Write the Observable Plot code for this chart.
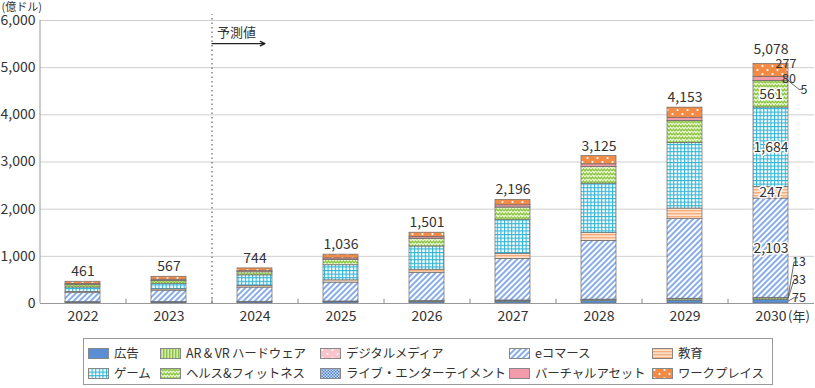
<!DOCTYPE html>
<html><head><meta charset="utf-8">
<script src="https://cdn.jsdelivr.net/npm/d3@7"></script>
<script src="https://cdn.jsdelivr.net/npm/@observablehq/plot@0.6"></script>
<style>
body{margin:0;background:#fff;font-family:'Noto Sans CJK JP',sans-serif;}
#wrap{position:relative;width:815px;height:388px;overflow:hidden;}
#legendBox{position:absolute;left:83px;top:338px;width:690px;height:47px;border:1px solid #9a9a9a;box-sizing:border-box;}
.item{position:absolute;display:flex;align-items:center;font-size:12.5px;letter-spacing:-0.2px;color:#333;white-space:nowrap;line-height:14px;height:14px;}
.item svg{margin-right:5px;display:block;}
</style></head>
<body>
<svg width="0" height="0" style="position:absolute">
<defs>
<pattern id="p-arvr" patternUnits="userSpaceOnUse" width="3" height="3">
  <rect width="3" height="3" fill="#d6ebae"/>
  <rect width="1.4" height="3" fill="#8cc045"/>
</pattern>
<pattern id="p-digital" patternUnits="userSpaceOnUse" width="10" height="8">
  <rect width="10" height="8" fill="#f8c3cb"/>
  <circle cx="2.5" cy="2" r="1" fill="#fff"/>
  <circle cx="7.5" cy="6" r="1" fill="#fff"/>
</pattern>
<pattern id="p-ecom" patternUnits="userSpaceOnUse" width="4" height="4" patternTransform="rotate(45)">
  <rect width="4" height="4" fill="#ffffff"/>
  <rect width="2" height="4" fill="#88ade8"/>
</pattern>
<pattern id="p-edu" patternUnits="userSpaceOnUse" width="3" height="3">
  <rect width="3" height="3" fill="#fde2cd"/>
  <rect width="3" height="1.4" fill="#f6ad7a"/>
</pattern>
<pattern id="p-game" patternUnits="userSpaceOnUse" width="3.6" height="3.6">
  <rect width="3.6" height="3.6" fill="#2fb4d4"/>
  <rect x="1.1" y="1.1" width="2.5" height="2.5" fill="#ffffff"/>
</pattern>
<pattern id="p-health" patternUnits="userSpaceOnUse" width="6" height="4">
  <rect width="6" height="4" fill="#eef7dc"/>
  <path d="M0,3 L1.5,1 L3,3 L4.5,1 L6,3" stroke="#8cc63f" stroke-width="1.3" fill="none"/>
</pattern>
<pattern id="p-live" patternUnits="userSpaceOnUse" width="3" height="3">
  <rect width="3" height="3" fill="#d2e0f6"/>
  <rect width="1.5" height="1.5" fill="#4a7fcc"/>
  <rect x="1.5" y="1.5" width="1.5" height="1.5" fill="#4a7fcc"/>
</pattern>
<pattern id="p-work" patternUnits="userSpaceOnUse" width="10" height="8">
  <rect width="10" height="8" fill="#f28b46"/>
  <circle cx="2.5" cy="2" r="1.1" fill="#fff"/>
  <circle cx="7.5" cy="6" r="1.1" fill="#fff"/>
</pattern>
</defs>
</svg>
<div id="wrap"><div id="chart"></div><div id="legendBox"></div></div>
<script>
// ---- data ----
const years = ["2022","2023","2024","2025","2026","2027","2028","2029","2030"];
const ad      = [20, 22, 25, 28, 32, 40, 50, 62, 75];          // 広告
const arvr    = [7, 8, 9, 11, 14, 18, 24, 28, 33];             // AR & VR ハードウェア
const live    = [2, 2, 3, 4, 5, 7, 9, 11, 13];                 // ライブ・エンターテイメント
const ecom    = [190, 240, 300, 400, 600, 880, 1245, 1690, 2103]; // eコマース
const edu     = [25, 28, 35, 48, 65, 110, 165, 222, 247];      // 教育
const game    = [95, 115, 225, 320, 493, 715, 1047, 1390, 1684]; // ゲーム
const health  = [50, 65, 65, 115, 165, 265, 352, 465, 561];    // ヘルス&フィットネス
const digital = [1, 1, 1, 2, 2, 3, 3, 4, 5];                   // デジタルメディア
const virtual = [21, 24, 24, 28, 35, 45, 55, 63, 80];          // バーチャルアセット
const work    = [50, 62, 57, 80, 90, 113, 175, 218, 277];      // ワークプレイス
const totals  = [461, 567, 744, 1036, 1501, 2196, 3125, 4153, 5078];

const categories = ["広告","AR & VR ハードウェア","ライブ・エンターテイメント","eコマース","教育","ゲーム","ヘルス&フィットネス","デジタルメディア","バーチャルアセット","ワークプレイス"];
const series = [ad, arvr, live, ecom, edu, game, health, digital, virtual, work];
const fills = ["#5b8fd5","url(#p-arvr)","url(#p-live)","url(#p-ecom)","url(#p-edu)","url(#p-game)","url(#p-health)","url(#p-digital)","#f49bab","url(#p-work)"];
const legendOrder = [["広告","AR & VR ハードウェア","デジタルメディア","eコマース","教育"],
                     ["ゲーム","ヘルス&フィットネス","ライブ・エンターテイメント","バーチャルアセット","ワークプレイス"]];
const yTicks = [0, 1000, 2000, 3000, 4000, 5000, 6000];
const innerLabelCats = ["eコマース","教育","ゲーム","ヘルス&フィットネス"];
const calloutCats = ["ワークプレイス","バーチャルアセット","デジタルメディア","ライブ・エンターテイメント","AR & VR ハードウェア","広告"];

const fmt = d3.format(",");
const data = categories.flatMap((c, ci) => years.map((y, yi) => ({year: y, cat: c, value: series[ci][yi], fill: fills[ci]})));
const totalRows = years.map((y, i) => ({year: y, total: totals[i]}));
const last = years.length - 1;

// stacked extents for 2030 callouts
let acc = 0;
const seg = {};
categories.forEach((c, ci) => { const v = series[ci][last]; seg[c] = {lo: acc, hi: acc + v, v}; acc += v; });
// callout layout (label y in data units, label x offset from bar edge in px)
const calloutLayout = {
  "ワークプレイス": {ly: 5085, lx: -2, leader: false},
  "バーチャルアセット": {ly: 4750, lx: 1, leader: false},
  "デジタルメディア": {ly: 4530, lx: 16, leader: true},
  "ライブ・エンターテイメント": {ly: 870, lx: 11, leader: true},
  "AR & VR ハードウェア": {ly: 490, lx: 11, leader: true},
  "広告": {ly: 110, lx: 11, leader: true}
};

const W = 815, H = 336, mL = 40, mR = 1, mT = 20, mB = 33;
const step = (W - mL - mR) / years.length;
const font = "'Noto Sans CJK JP', sans-serif";

function callouts(index, scales) {
  const x = scales.x, y = scales.y;
  const bw = typeof x.bandwidth === "function" ? x.bandwidth() : (scales.scales ? scales.scales.x.bandwidth : 35);
  const edge = x(years[last]) + bw;
  const g = d3.create("svg:g");
  for (const c of calloutCats) {
    const L = calloutLayout[c], s = seg[c];
    const ym = y((s.lo + s.hi) / 2), yl = y(L.ly);
    if (L.leader) {
      g.append("path")
        .attr("d", `M${edge},${ym}L${edge + L.lx - 5},${yl}L${edge + L.lx - 1},${yl}`)
        .attr("fill", "none").attr("stroke", "#555").attr("stroke-width", 0.9);
    }
    g.append("text").attr("x", edge + L.lx).attr("y", yl).attr("dy", "0.35em")
      .attr("font-size", 12.5).attr("fill", "#333").attr("font-family", font)
      .text(fmt(s.v));
  }
  return g.node();
}

const chart = Plot.plot({
  width: W, height: H,
  marginLeft: mL, marginRight: mR, marginTop: mT, marginBottom: mB,
  style: {fontFamily: font, fontSize: "14px", color: "#333", background: "white"},
  x: {domain: years, paddingInner: 0.59, paddingOuter: 0.295, label: null},
  y: {domain: [0, 6000], label: null},
  color: {type: "identity"},
  marks: [
    Plot.ruleY(yTicks.slice(1), {stroke: "#cfcfcf", strokeWidth: 1}),
    Plot.axisY(yTicks, {tickSize: 0, tickPadding: 5, tickFormat: fmt, fontSize: 14, fill: "#333", label: null}),
    Plot.axisX({tickSize: 0, tickPadding: 8, fontSize: 14, fill: "#333", label: null}),
    Plot.ruleX([years[0]], {dx: -step / 2, y1: 0, y2: 6000, stroke: "#999"}),
    Plot.ruleX(years.slice(1), {dx: -step / 2, y1: 0, y2: 90, stroke: "#888"}),
    Plot.ruleX(["2023"], {dx: step / 2, y1: 0, y2: 6120, stroke: "#666", strokeDasharray: "1.5,3", strokeWidth: 1.2}),
    Plot.arrow([0], {x1: () => "2023", x2: () => "2024", y1: () => 5510, y2: () => 5510, dx: step / 2, insetEnd: 33, headLength: 6, headAngle: 50, stroke: "#222", strokeWidth: 1.3}),
    Plot.text(["予測値"], {x: () => "2023", y: () => 5740, dx: step / 2 + 5, text: d => d, textAnchor: "start", fontSize: 13, fill: "#333"}),
    Plot.barY(data, {x: "year", y: "value", z: "cat", fill: "fill", stroke: "#6a6a6a", strokeWidth: 0.7}),
    Plot.ruleY([0], {stroke: "#999"}),
    Plot.text(data, Plot.stackY({x: "year", y: "value", z: "cat",
      text: d => (d.year === years[last] && innerLabelCats.includes(d.cat)) ? fmt(d.value) : null,
      fill: "#333", stroke: "white", strokeWidth: 3, fontSize: 14})),
    Plot.text(totalRows.slice(0, last), {x: "year", y: "total", text: d => fmt(d.total), dy: -10, fontSize: 14, fill: "#333"}),
    Plot.text(totalRows.slice(last), {x: "year", y: "total", text: d => fmt(d.total), dy: -14, fontSize: 14, fill: "#333"}),
    Plot.text(["(年)"], {x: () => years[last], y: () => 0, dx: 17, dy: 8, text: d => d, textAnchor: "start", lineAnchor: "top", fontSize: 13, fill: "#333"}),
    Plot.text(["(億ドル)"], {frameAnchor: "top-left", dx: -mL + 1, dy: -mT + 7, text: d => d, textAnchor: "start", lineAnchor: "middle", fontSize: 11, fill: "#333"}),
    callouts
  ]
});
document.getElementById("chart").appendChild(chart);

// ---- legend ----
const wrap = document.getElementById("wrap");
const colLeft = [88, 160, 320, 509, 652];
const rowTop = [346, 366];
legendOrder.forEach((row, ri) => row.forEach((name, ci) => {
  const f = fills[categories.indexOf(name)];
  const div = document.createElement("div");
  div.className = "item";
  div.style.left = colLeft[ci] + "px";
  div.style.top = rowTop[ri] + "px";
  div.innerHTML = `<svg width="21" height="11"><rect x="0.5" y="0.5" width="20" height="10" fill="${f}" stroke="#888" stroke-width="1"/></svg><span>${name}</span>`;
  wrap.appendChild(div);
}));
</script>
</body></html>
